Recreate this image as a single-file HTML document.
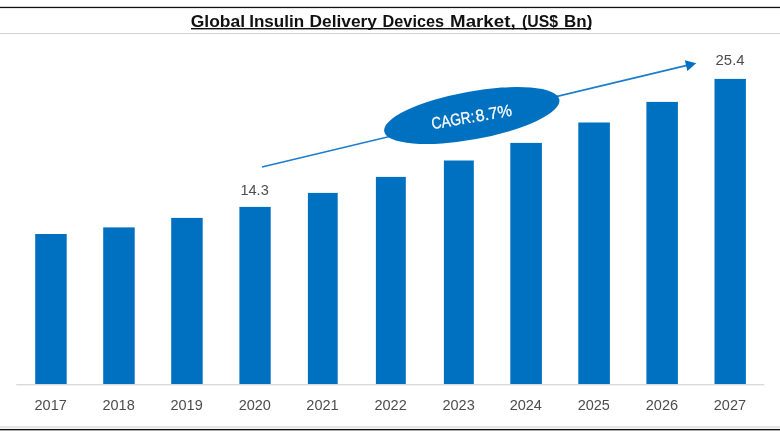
<!DOCTYPE html>
<html lang="en">
<head>
<meta charset="utf-8">
<title>Global Insulin Delivery Devices Market, (US$ Bn)</title>
<style>
html,body{margin:0;padding:0;background:#fff;}
body{width:780px;height:440px;overflow:hidden;font-family:"Liberation Sans",sans-serif;}
svg{display:block;}
.title{font-family:"Liberation Sans",sans-serif;font-weight:700;font-size:16.3px;fill:#111;}
.lbl text{font-family:"Liberation Sans",sans-serif;font-size:15.4px;fill:#4d4d4d;text-anchor:middle;}
.cagr{font-family:"Liberation Sans",sans-serif;font-size:16.6px;fill:#fff;text-anchor:start;}
</style>
</head>
<body>
<svg width="780" height="440" viewBox="0 0 780 440">
<rect x="0" y="0" width="780" height="440" fill="#ffffff"/>
<!-- frame lines -->
<rect x="0" y="6.8" width="780" height="1.3" fill="#111"/>
<rect x="0" y="33" width="780" height="1" fill="#d2d2d2"/>
<rect x="0" y="426" width="780" height="2" fill="#e6e6e6"/>
<rect x="0" y="428.95" width="780" height="1.4" fill="#111"/>
<!-- title -->
<text class="title" y="26.5"><tspan x="190.81" textLength="54.29" lengthAdjust="spacingAndGlyphs">Global</tspan> <tspan x="249.22" textLength="54.88" lengthAdjust="spacingAndGlyphs">Insulin</tspan> <tspan x="309.54" textLength="67.42" lengthAdjust="spacingAndGlyphs">Delivery</tspan> <tspan x="382.59" textLength="61.44" lengthAdjust="spacingAndGlyphs">Devices</tspan> <tspan x="450.14" textLength="65.47" lengthAdjust="spacingAndGlyphs">Market,</tspan> <tspan x="522.09" textLength="36.03" lengthAdjust="spacingAndGlyphs">(US$</tspan> <tspan x="564.05" textLength="28.28" lengthAdjust="spacingAndGlyphs">Bn)</tspan></text>
<rect x="191" y="28.0" width="400" height="1.4" fill="#111"/>
<!-- axis -->
<rect x="16.3" y="384.1" width="748" height="1.2" fill="#d4d4d4"/>
<!-- bars -->
<g fill="#0070c0">
<rect x="35.2" y="234.0" width="31.5" height="150.0"/>
<rect x="103.2" y="227.4" width="31.5" height="156.6"/>
<rect x="171.2" y="217.9" width="31.5" height="166.1"/>
<rect x="239.4" y="206.9" width="31.3" height="177.1"/>
<rect x="307.9" y="192.9" width="29.8" height="191.1"/>
<rect x="375.9" y="176.9" width="29.9" height="207.1"/>
<rect x="443.9" y="160.5" width="29.9" height="223.5"/>
<rect x="510.3" y="142.9" width="31.6" height="241.1"/>
<rect x="578.3" y="122.5" width="31.6" height="261.5"/>
<rect x="646.4" y="101.9" width="31.5" height="282.1"/>
<rect x="714.5" y="78.9" width="31.4" height="305.1"/>
</g>
<!-- year labels -->
<g class="lbl">
<text x="50.7" y="409.5" textLength="32.3" lengthAdjust="spacingAndGlyphs">2017</text>
<text x="118.6" y="409.5" textLength="32.3" lengthAdjust="spacingAndGlyphs">2018</text>
<text x="186.6" y="409.5" textLength="32.3" lengthAdjust="spacingAndGlyphs">2019</text>
<text x="254.8" y="409.5" textLength="32.3" lengthAdjust="spacingAndGlyphs">2020</text>
<text x="322.5" y="409.5" textLength="32.3" lengthAdjust="spacingAndGlyphs">2021</text>
<text x="390.6" y="409.5" textLength="32.3" lengthAdjust="spacingAndGlyphs">2022</text>
<text x="458.6" y="409.5" textLength="32.3" lengthAdjust="spacingAndGlyphs">2023</text>
<text x="525.8" y="409.5" textLength="32.3" lengthAdjust="spacingAndGlyphs">2024</text>
<text x="593.8" y="409.5" textLength="32.3" lengthAdjust="spacingAndGlyphs">2025</text>
<text x="661.9" y="409.5" textLength="32.3" lengthAdjust="spacingAndGlyphs">2026</text>
<text x="729.9" y="409.5" textLength="32.3" lengthAdjust="spacingAndGlyphs">2027</text>
<text x="254.6" y="194.5" textLength="28.3" lengthAdjust="spacingAndGlyphs">14.3</text>
<text x="730.1" y="65" textLength="29.1" lengthAdjust="spacingAndGlyphs">25.4</text>
</g>
<!-- arrow -->
<line x1="262" y1="167" x2="689" y2="64.9" stroke="#1a7ccc" stroke-width="1.6"/>
<polygon points="696.2,63.2 684.8,60.2 687.4,71" fill="#0070c0"/>
<!-- ellipse -->
<g transform="translate(471.8,115.5) rotate(-10.3)">
<ellipse cx="0" cy="0" rx="89.0" ry="24.0" fill="#0070c0"/>
</g>
<g transform="translate(471.5,116.4) rotate(-9.8)">
<text class="cagr" y="6.1" stroke="#fff" stroke-width="0.25"><tspan x="-40.7" textLength="43.6" lengthAdjust="spacingAndGlyphs">CAGR:</tspan><tspan x="4.0" textLength="36.7" lengthAdjust="spacingAndGlyphs">8.7%</tspan></text>
</g>
</svg>
</body>
</html>
